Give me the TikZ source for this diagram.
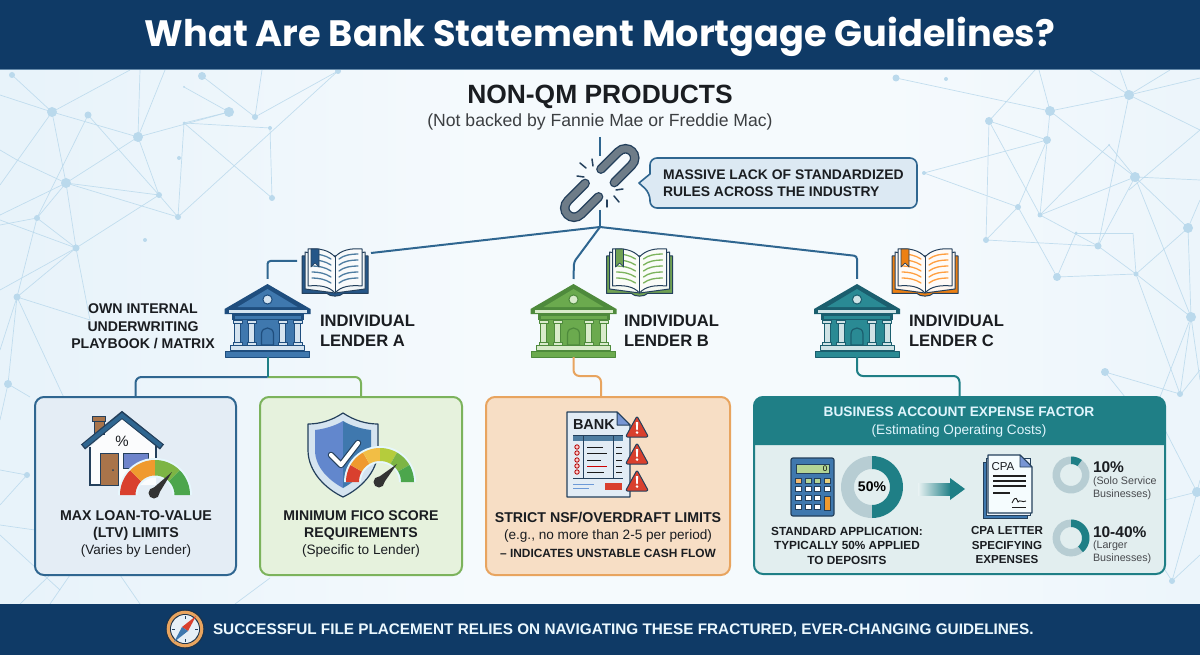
\documentclass[tikz,border=0pt]{standalone}
\usepackage{fontspec}
\usetikzlibrary{calc}
\setmainfont{Liberation Sans}
\newfontfamily\titlefont{Poppins}
\definecolor{navy}{HTML}{0F3A66}
\definecolor{trunkc}{HTML}{2F6690}
\definecolor{tealc}{HTML}{1F7F86}
\definecolor{greenc}{HTML}{7CB35C}
\definecolor{orangec}{HTML}{E8A45F}
\definecolor{inkc}{HTML}{1A1D21}
\definecolor{netc}{HTML}{BAD9EC}
\definecolor{outl}{HTML}{24405C}
\definecolor{chaingray}{HTML}{6E7C88}
\definecolor{bgl}{HTML}{DFEEF8}
\definecolor{bgm}{HTML}{F5FAFD}
\definecolor{bgr}{HTML}{E3F0F9}
\definecolor{calloutc}{HTML}{DCE9F3}
\definecolor{gred}{HTML}{D9402E}
\definecolor{gorg}{HTML}{EF9A2E}
\definecolor{gyel}{HTML}{F2BE45}
\definecolor{gylg}{HTML}{B5CC3C}
\definecolor{ggrn}{HTML}{7DB544}
\definecolor{gdgr}{HTML}{4CA64C}
\definecolor{donutg}{HTML}{B7CDD3}
\definecolor{brownc}{HTML}{A9744A}
\definecolor{blueA}{HTML}{3F78AE}\definecolor{lightA}{HTML}{D5E4F0}\definecolor{darkA}{HTML}{1F4E7E}
\definecolor{blueB}{HTML}{6BAA4E}\definecolor{lightB}{HTML}{D9EBCB}\definecolor{darkB}{HTML}{4E8A3C}
\definecolor{blueC}{HTML}{2A8A94}\definecolor{lightC}{HTML}{CFE3E6}\definecolor{darkC}{HTML}{1B5E6E}
\pgfdeclarehorizontalshading{bgsh}{100bp}{color(0bp)=(bgl); color(28bp)=(bgl!55!bgm); color(45bp)=(bgm); color(62bp)=(bgm); color(80bp)=(bgr!70!bgm); color(100bp)=(bgr)}
\newcommand\fsz[2]{\fontsize{#1}{#2}\selectfont}
\tikzset{
 x=1pt,y=-1pt,
 trunk/.style={draw=trunkc,line width=2pt,rounded corners=3pt},
 conn/.style={line width=2pt,rounded corners=6pt},
 netline/.style={draw=netc,line width=.7pt,opacity=.85},
 netnode/.style={fill=netc},
 iconbox/.style={inner sep=0pt,outer sep=0pt,draw=none,fill=none},
 card/.style={inner sep=0pt,outer sep=0pt,rounded corners=9pt,line width=2pt},
 txt/.style={inner sep=0pt,outer sep=0pt,text=inkc,align=center},
 ltxt/.style={inner sep=0pt,outer sep=0pt,text=inkc,align=left,anchor=west},
}
\newcommand\ringseg[7]{\begin{scope}[shift={(#1,#2)},yscale=-1]
 \fill[#7] plot[domain=#5:#6,samples=25] ({#4*cos(\x)},{#4*sin(\x)}) -- plot[domain=#6:#5,samples=25] ({#3*cos(\x)},{#3*sin(\x)}) -- cycle;
\end{scope}}
\newcommand\bankicon[6]{% name cx topy main light dark
 \node[iconbox,minimum width=85pt,minimum height=78pt] (#1) at (#2,{#3+34}) {};
 \begin{scope}[shift={(#2,#3)},line join=round]
  \fill[#6] (0,0) -- (43,25) -- (43,30) -- (-43,30) -- (-43,25) -- cycle;
  \fill[#4] (0,5) -- (30,23) -- (-30,23) -- cycle;
  \fill[#5] (-39,26) -- (39,26) -- (39,28.5) -- (-39,28.5) -- cycle;
  \fill[#5,draw=#6,line width=1pt] (0,15.5) circle (4.6pt);
  \fill[#6] (-36,30) rectangle (36,36);
  \fill[#4] (-33,32) rectangle (33,35);
  \fill[#4] (-31,36) rectangle (31,61);
  \foreach \c in {-30,-16,15,30}{
   \fill[#5,draw=#6,line width=1pt] ({\c-3},39) rectangle ({\c+3},60);
   \fill[#5,draw=#6,line width=.8pt] ({\c-4.5},36.5) rectangle ({\c+4.5},39);
   \fill[#5,draw=#6,line width=.8pt] ({\c-4.5},58.5) rectangle ({\c+4.5},61);
  }
  \fill[#4,draw=#6,line width=1.2pt] (-6,61) -- (-6,50) .. controls (-6,42) and (6,42) .. (6,50) -- (6,61) -- cycle;
  \fill[#5,draw=#6,line width=1pt] (-37,61) rectangle (37,66);
  \fill[#4,draw=#6,line width=1pt] (-42,67) rectangle (42,73);
 \end{scope}}
\newcommand\bookicon[6]{% name cx topy accent linecol dark
 \node[iconbox,minimum width=66pt,minimum height=49pt] (#1) at (#2,{#3+24.5}) {};
 \begin{scope}[shift={(#2,#3)},line join=round]
  \fill[#4,draw=#6,line width=1pt] (-33,8) -- (33,8) -- (33,45.5) -- (8,45.5) .. controls (5,49) and (-5,49) .. (-8,45.5) -- (-33,45.5) -- cycle;
  \fill[white!92!#5,draw=#6,line width=1pt] (-30,4) -- (0,10) -- (30,4) -- (30,41) -- (0,45) -- (-30,41) -- cycle;
  \fill[white!96!#5,draw=#6,line width=1pt] (0,45) .. controls (-6,38) and (-16,37) .. (-27,38) -- (-27,1) .. controls (-16,0) and (-6,2) .. (0,9) .. controls (6,2) and (16,0) .. (27,1) -- (27,38) .. controls (16,37) and (6,38) .. (0,45) -- cycle;
  \draw[#6,line width=.8pt] (0,9) -- (0,45);
  \foreach \y in {6,12,18,24,30}{
   \draw[#5,line width=1.3pt,line cap=round] (-23,{\y}) .. controls (-17,{\y}) and (-10,{\y+1}) .. (-4,{\y+5});
   \draw[#5,line width=1.3pt,line cap=round] (4,{\y+5}) .. controls (9,{\y+1}) and (16,{\y}) .. (23,{\y});
  }
  \fill[#4,draw=#6,line width=.7pt] (-24,1) -- (-16,1) -- (-16,19) -- (-20,15) -- (-24,19) -- cycle;
 \end{scope}}
\newcommand\warnicon[2]{\begin{scope}[shift={(#1,#2)},line join=round]
  \fill[gred,draw=outl,line width=1pt,rounded corners=2pt] (0,0) -- (11.5,21) -- (-11.5,21) -- cycle;
  \fill[white] (-1.2,6) -- (1.2,6) -- (.7,14) -- (-.7,14) -- cycle;
  \fill[white] (0,16.6) circle (1.4pt);
 \end{scope}}
\newcommand\stadium[1]{\draw[outl,line width=9.5pt,line cap=round] #1; \draw[chaingray,line width=6.8pt,line cap=round] #1;}
\begin{document}
\begin{tikzpicture}
\useasboundingbox (0,0) rectangle (1200,655);
% background
\shade[shading=bgsh] (0,70) rectangle (1200,604);
\begin{scope}
\clip (0,70) rectangle (1200,604);
\foreach \xa/\ya/\xb/\yb in {12/75/52/112,52/112/130/70,0/95/52/112,52/112/138/137,138/137/229/112,138/137/140/70,138/137/165/70,138/137/66/183,138/137/159/195,52/112/66/183,52/112/0/185,88/115/159/195,88/115/37/218,66/183/159/195,66/183/178/217,66/183/76/248,66/183/0/215,66/183/17/160,17/160/0/150,159/195/76/248,159/195/178/217,178/217/184/123,178/217/338/71,184/123/229/112,184/123/270/128,184/123/272/198,270/128/272/198,255/117/202/76,255/117/338/71,255/117/262/70,229/112/184/87,76/248/0/220,76/248/37/218,37/218/66/183,37/218/0/225,37/218/17/297,17/297/76/248,17/297/0/350,76/248/0/290,76/248/90/320,17/297/90/320,17/297/65/400,17/297/8/384,8/384/0/420,8/384/30/397,0/470/27/475,27/475/0/505,0/525/35/530,0/535/60/590,20/604/50/575,50/604/70/575,235/604/270/578,120/575/140/604,
896/78/1050/111,989/121/1035/70,1050/111/1039/70,1050/111/1129/95,1129/95/1090/70,1129/95/1120/70,1129/95/1170/70,1129/95/1200/78,1129/95/1200/130,1129/95/1098/246,1050/111/1135/177,1050/111/1040/215,989/121/1047/140,989/121/1040/215,989/121/986/240,1047/140/924/173,1047/140/1018/207,924/173/1018/207,1018/207/986/240,1018/207/1057/277,1040/215/1109/145,1109/145/1135/177,1040/215/1135/177,1040/215/1098/246,1135/177/1098/246,1135/177/1200/180,1135/177/1188/228,1135/177/1191/317,986/240/1098/246,1098/246/1136/274,1076/233/1133/233,1133/233/1136/274,1076/233/1057/277,1057/277/1136/274,1136/274/1191/317,1136/274/1180/394,1188/228/1191/317,1188/228/1136/274,1200/130/1129/190,1191/317/1180/394,1191/317/1160/397,1105/372/1180/394,1105/372/1125/397,1191/317/1200/380,1188/228/1200/200,1181/394/1200/370,1197/492/1165/430,1197/492/1172/581,1172/581/1165/570,1172/581/1200/555,1197/492/1200/480,1165/500/1197/492}
 {\draw[netline] (\xa,\ya) -- (\xb,\yb);}
\foreach \px/\py/\pr in {52/112/5,88/115/3.5,138/137/5,229/112/5,255/117/3,270/128/2,184/123/1.5,66/183/5,159/195/3,178/217/3,37/218/3,76/248/3.5,17/297/3.5,8/384/4,202/76/4,12/75/3,272/198/3,179/158/2,145/240/2,338/71/3,184/87/1,27/475/3,
896/78/3.5,946/79/2,1050/111/5,1129/95/5,989/121/4,1047/140/4,924/173/2,1135/177/5,1109/145/1,1018/207/3,1040/215/2.5,986/240/3,1098/246/3.5,1076/233/1.5,1057/277/4,1136/274/2.5,1188/228/5,1191/317/5,1105/372/4,1180/394/3,1197/492/5,1172/581/3}
 {\fill[netnode] (\px,\py) circle (\pr pt);}
\end{scope}
% bands
\fill[navy] (0,0) rectangle (1200,69);
\draw[netc!50!navy,line width=1pt] (0,69.5) -- (1200,69.5);
\fill[navy] (0,604) rectangle (1200,655);
\node[inner sep=0pt,text=white,font=\titlefont\bfseries\fsz{36.7}{40}] (title) at (600,37) {What Are Bank Statement Mortgage Guidelines?};
\node[txt,font=\bfseries\fsz{26.4}{28}] (nonqm) at (600,97) {NON-QM PRODUCTS};
\node[txt,text=inkc!85,font=\fsz{17.6}{20}] (nonqmsub) at (600,122) {(Not backed by Fannie Mae or Freddie Mac)};
% named anchors
\node[iconbox,minimum width=72pt,minimum height=54pt] (chain) at (600,183) {};
\coordinate (chainTop) at (600,137);
\coordinate (junction) at (600,227);
\coordinate (bookAin) at (371,253);
\coordinate (bookAout) at (297,261);
\coordinate (kneeB) at (574,262);
\coordinate (kneeC) at (857,256);
\coordinate (nsfIn) at (601,397);
% callout
\fill[calloutc,draw=trunkc,line width=1.6pt,rounded corners=7pt,line join=round] (650,158) -- (917,158) -- (917,208) -- (650,208) -- (650,193) [sharp corners] -- (639,183) -- (650,174) [rounded corners=7pt] -- cycle;
\node[ltxt,font=\bfseries\fsz{13.9}{17}] (rules) at (663,183.5) {MASSIVE LACK OF STANDARDIZED\\RULES ACROSS THE INDUSTRY};
% chain icon
\draw[trunk] (chainTop) -- (chain.north);
\draw[trunk] (chain.south) -- (junction);
\begin{scope}[shift={(617.5,166)},rotate=45]
 \stadium{(-14,9.5) -- (10,9.5) .. controls (24,9.5) and (24,-9.5) .. (10,-9.5) -- (-14,-9.5)}
\end{scope}
\begin{scope}[shift={(582,200)},rotate=45]
 \stadium{(14,9.5) -- (-10,9.5) .. controls (-24,9.5) and (-24,-9.5) .. (-10,-9.5) -- (14,-9.5)}
\end{scope}
\foreach \xa/\ya/\xb/\yb in {580/163/586/168,592/159/593/166,577/176/584/177,616/190/623/189,614/196/619/202,607/200/607/207}
 {\draw[outl,line width=1.5pt,line cap=round] (\xa,\ya) -- (\xb,\yb);}
% lenders
\bankicon{bankA}{267.5}{284}{blueA}{lightA}{darkA}
\bankicon{bankB}{573.5}{284}{blueB}{lightB}{darkB}
\bankicon{bankC}{857}{284}{blueC}{lightC}{darkC}
\bookicon{bookA}{335}{248}{darkA!80!blueA}{trunkc!85!white}{outl}
\bookicon{bookB}{639.5}{248}{greenc!90!black}{greenc}{outl}
\bookicon{bookC}{925}{248}{orange!70!brown}{orange!75!white}{outl}
\draw[trunk] (junction) -- (bookAin);
\draw[trunk] (bookAout) -| (bankA.north);
\draw[trunk] (junction) -- (kneeB) -- (bankB.north);
\draw[trunk] (junction) -- (kneeC) -- (bankC.north);
\node[ltxt,font=\bfseries\fsz{16.6}{20}] (lenderA) at (320,331) {INDIVIDUAL\\LENDER A};
\node[ltxt,font=\bfseries\fsz{16.6}{20}] (lenderB) at (624,331) {INDIVIDUAL\\LENDER B};
\node[ltxt,font=\bfseries\fsz{16.6}{20}] (lenderC) at (909,331) {INDIVIDUAL\\LENDER C};
\node[txt,font=\bfseries\fsz{14.1}{17.5}] (playbook) at (143,326.5) {OWN INTERNAL\\UNDERWRITING\\PLAYBOOK / MATRIX};
% cards
\node[card,draw=trunkc,fill=lightA!65!white,minimum width=201pt,minimum height=178pt] (ltv) at (135.5,486) {};
\node[card,draw=greenc,fill=lightB!65!white,minimum width=202pt,minimum height=178pt] (fico) at (361,486) {};
\node[card,draw=orangec,fill=orangec!36!white,minimum width=244pt,minimum height=178pt] (nsf) at (608,486) {};
\node[card,draw=tealc,fill=tealc!13!white,minimum width=411pt,minimum height=177pt] (bizz) at (959.5,485.5) {};
\fill[tealc] (754,445) [rounded corners=9pt] -- (754,397) -- (1165,397) [sharp corners] -- (1165,445) -- cycle;
% lower connectors
\draw[conn,draw=greenc] (bankA.south) ++(0,20) -| (fico.north);
\draw[conn,draw=trunkc] (bankA.south) ++(0,20) -| (ltv.north);
\draw[line width=2pt,draw=tealc] (bankA.south) -- ++(0,20);
\draw[conn,draw=orangec] (bankB.south) |- ($(nsfIn)+(0,-21)$) -- (nsfIn);
\draw[conn,draw=tealc] (bankC.south) |- ($(bizz.north)+(0,-21)$) -- (bizz.north);
% card texts
\node[txt,font=\fsz{14.2}{17}] (ltvtxt) at (136,534) {\bfseries MAX LOAN-TO-VALUE\\\bfseries (LTV) LIMITS\\\fsz{13.5}{17}(Varies by Lender)};
\node[txt,font=\fsz{14.1}{17}] (ficotxt) at (361,534) {\bfseries MINIMUM FICO SCORE\\\bfseries REQUIREMENTS\\\fsz{13.6}{17}(Specific to Lender)};
\node[txt,font=\fsz{14.2}{17.5}] (nsftxt) at (608,534.5) {\bfseries STRICT NSF/OVERDRAFT LIMITS\\\fsz{13.6}{17.5}(e.g., no more than 2-5 per period)\\\bfseries\fsz{11.9}{17.5}– INDICATES UNSTABLE CASH FLOW};
\node[txt,text=white!88!cyan,font=\fsz{13.7}{18}] (biztxt) at (959,422) {\bfseries BUSINESS ACCOUNT EXPENSE FACTOR\\\fsz{13.6}{18}(Estimating Operating Costs)};
\node[txt,font=\bfseries\fsz{11.8}{14.5}] (stdtxt) at (847,545.5) {STANDARD APPLICATION:\\TYPICALLY 50\% APPLIED\\TO DEPOSITS};
\node[txt,font=\bfseries\fsz{11.6}{14.5}] (cpatxt) at (1007,545.5) {CPA LETTER\\SPECIFYING\\EXPENSES};
\node[ltxt,font=\bfseries\fsz{15.5}{18}] (p10) at (1093,467) {10\%};
\node[ltxt,text=inkc!80,font=\fsz{10.7}{12.5}] (solo) at (1093,488) {(Solo Service\\Businesses)};
\node[ltxt,font=\bfseries\fsz{15.5}{18}] (p40) at (1093,532) {10-40\%};
\node[ltxt,text=inkc!80,font=\fsz{10.7}{12.5}] (larger) at (1093,552) {(Larger\\Businesses)};
% house + gauge
\fill[white!90!lightA] (90,447) -- (122,418) -- (156,447) -- (156,485) -- (90,485) -- cycle;
\draw[outl,line width=1.2pt] (90,447) -- (90,485) -- (110,485);
\draw[outl,line width=1.2pt] (156,445) -- (156,460);
\fill[brownc,draw=outl,line width=.8pt] (92,416) rectangle (105,421);
\fill[brownc,draw=outl,line width=.8pt] (94,421) rectangle (104,434);
\draw[outl,line width=6.5pt,line join=miter] (83,447) -- (122,415) -- (162,447);
\draw[trunkc,line width=4pt,line join=miter] (84,446) -- (122,415.5) -- (161,446);
\fill[brownc,draw=outl,line width=1pt] (100,453) rectangle (118,485);
\fill[outl] (113,470) circle (1pt);
\fill[cyan!30!blue!60!white,draw=outl,line width=.8pt] (123,453) rectangle (148,468);
\node[txt,font=\fsz{15}{16}] (pct) at (122,441) {\%};
\ringseg{155}{495}{17.5}{37}{0}{180}{white!90!cyan}
\ringseg{155}{495}{19.5}{35}{135}{180}{gred}
\ringseg{155}{495}{19.5}{35}{90}{135}{gorg}
\ringseg{155}{495}{19.5}{35}{45}{90}{ggrn}
\ringseg{155}{495}{19.5}{35}{0}{45}{gdgr}
\fill[gray!40!black] (172,472) -- (158,495) -- (151,490) -- cycle;
\fill[gray!40!black] (154,493) circle (5.5pt);
% shield + gauge
\fill[lightA,draw=outl,line width=1.2pt,line join=round] (343,413) .. controls (355,421) and (367,424) .. (378,424) -- (378,450) .. controls (378,472) and (360,489) .. (343,497) .. controls (326,489) and (308,472) .. (308,450) -- (308,424) .. controls (319,424) and (331,421) .. (343,413) -- cycle;
\fill[cyan!40!blue!65!white] (343,421) .. controls (335,426) and (324,429) .. (315,430) -- (315,450) .. controls (315,468) and (330,481) .. (343,488) -- cycle;
\fill[blueA] (343,421) .. controls (351,426) and (362,429) .. (371,430) -- (371,450) .. controls (371,468) and (356,481) .. (343,488) -- cycle;
\draw[outl,line width=6.5pt,line cap=round,line join=round] (331,455) -- (341,465) -- (358,443);
\draw[white,line width=4.2pt,line cap=round,line join=round] (331,455) -- (341,465) -- (358,443);
\ringseg{380}{482}{19}{36}{0}{180}{white!90!cyan}
\ringseg{380}{482}{21}{34}{150}{180}{gred}
\ringseg{380}{482}{21}{34}{120}{150}{gorg}
\ringseg{380}{482}{21}{34}{90}{120}{gyel}
\ringseg{380}{482}{21}{34}{60}{90}{gylg}
\ringseg{380}{482}{21}{34}{30}{60}{ggrn}
\ringseg{380}{482}{21}{34}{0}{30}{gdgr}
\fill[gray!40!black] (397,464) -- (383,484) -- (376,479) -- cycle;
\fill[gray!40!black] (379,482) circle (5.5pt);
% bank statement
\fill[lightA!70!white,draw=outl,line width=1.2pt,line join=round] (567,412) -- (617,412) -- (630,425) -- (630,497) -- (567,497) -- cycle;
\fill[cyan!40!blue!55!white,draw=outl,line width=1pt,line join=round] (617,412) -- (630,425) -- (617,425) -- cycle;
\node[ltxt,font=\bfseries\fsz{14.5}{16}] (banklbl) at (573,424.5) {BANK};
\fill[trunkc!85!white] (573,435) rectangle (623,441);
\draw[outl,line width=.9pt] (583,435) -- (583,478) (613,435) -- (613,478) (573,435) -- (623,435) (573,478) -- (623,478);
\foreach \ry/\rl in {447/603,453/607,460/601,472/604}{
 \draw[gray!20!black,line width=1pt] (587,\ry) -- (\rl,\ry);
 \draw[gray!20!black,line width=1pt] (616,\ry) -- (622,\ry);
}
\draw[red!80!black,line width=1pt] (587,466) -- (607,466);
\draw[gray!20!black,line width=1pt] (616,466) -- (622,466);
\foreach \ry in {447,453,460,466,472}{\draw[red!70!black,line width=.8pt,fill=red!20!white] (577,\ry) circle (2.2pt);}
\draw[cyan!50!blue!60!white,line width=.9pt] (573,484) -- (594,484) (573,488) -- (589,488);
\fill[gred] (605,483) rectangle (622,490);
\warnicon{637}{416}\warnicon{637}{443}\warnicon{637}{470}
% calculator
\fill[blueA,draw=outl,line width=1.2pt,rounded corners=2pt] (791,458) rectangle (834,516);
\fill[lightB!60!ggrn,draw=outl,line width=.8pt] (796,464) rectangle (829,473);
\node[inner sep=0pt,font=\fsz{8}{8}] (calczero) at (825,468.5) {0};
\foreach \bx/\bc in {798/gorg!70!white,808/lightB!60!ggrn,817/lightB!60!ggrn,827/gyel!60!lightB}{\fill[\bc,draw=outl,line width=.5pt] ({\bx-2.8},478.5) rectangle ({\bx+2.8},483.5);}
\foreach \by in {489,498,507}{\foreach \bx in {798,808,817}{\fill[white,draw=outl,line width=.5pt] ({\bx-2.8},{\by-2.5}) rectangle ({\bx+2.8},{\by+2.5});}}
\fill[white,draw=outl,line width=.5pt] (824.2,486.5) rectangle (829.8,491.5);
\fill[gorg,draw=outl,line width=.5pt] (824.2,496) rectangle (829.8,510);
% donuts
\ringseg{872}{487}{18}{31}{90}{270}{donutg}
\ringseg{872}{487}{18}{31}{-90}{90}{tealc}
\node[inner sep=0pt,font=\bfseries\fsz{14}{15}] (p50) at (872,487) {50\%};
\ringseg{1071}{475}{11}{18.5}{54}{414}{donutg}
\ringseg{1071}{475}{11}{18.5}{54}{90}{tealc}
\ringseg{1071}{538}{11}{18.5}{90}{450}{donutg}
\ringseg{1071}{538}{11}{18.5}{-50}{90}{tealc}
% arrow
\shade[left color=tealc!10!white,right color=tealc] (918,483) rectangle (951,495);
\fill[tealc] (950,478) -- (965,489) -- (950,500) -- cycle;
% cpa doc
\fill[blueA,draw=outl,line width=.9pt] (983,462) rectangle (1027,518);
\fill[lightA!50!white,draw=outl,line width=1pt] (986,458) rectangle (1030,515);
\fill[white!96!cyan,draw=outl,line width=1.1pt,line join=round] (988,455) -- (1020,455) -- (1032,467) -- (1032,513) -- (988,513) -- cycle;
\fill[cyan!40!blue!55!white,draw=outl,line width=.9pt,line join=round] (1020,455) -- (1032,467) -- (1020,467) -- cycle;
\node[inner sep=0pt,text=inkc,font=\fsz{11.5}{12}] (cpalbl) at (1003,467) {CPA};
\draw[gray!25!black,line width=1.1pt] (993,476) -- (1026,476) (993,481) -- (1026,481) (993,486) -- (1026,486) (993,493) -- (1010,493);
\draw[gray!25!black,line width=.9pt] (1012,503) .. controls (1016,494) and (1017,500) .. (1018,502) .. controls (1020,499) and (1022,503) .. (1026,501);
\draw[gray!25!black,line width=.9pt] (1012,507) -- (1026,507);
% footer
\fill[outl!80!black] (185,629) circle (19.5pt);
\fill[orangec] (185,629) circle (18.3pt);
\fill[outl!80!black] (185,629) circle (15pt);
\fill[lightA!60!white] (185,629) circle (14pt);
\draw[outl,line width=.9pt] (185,616) -- (185,619) (185,639) -- (185,642) (172,629) -- (175,629) (195,629) -- (198,629);
\fill[gred] (196,616) -- (188,631) -- (182,627) -- cycle;
\fill[blueA] (174,642) -- (182,627) -- (188,631) -- cycle;
\node[ltxt,text=white!92!cyan,font=\bfseries\fsz{15.3}{17}] (footertxt) at (213,630) {SUCCESSFUL FILE PLACEMENT RELIES ON NAVIGATING THESE FRACTURED, EVER-CHANGING GUIDELINES.};
\end{tikzpicture}
\end{document}
